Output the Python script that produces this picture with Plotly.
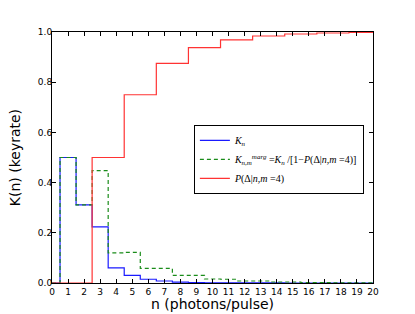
import plotly.graph_objects as go

n_photons = list(range(0, 21))
k_n = [0, 0.5, 0.311, 0.224, 0.060, 0.030, 0.015, 0.008, 0.0035, 0.0018, 0.001,
       0.0005, 0.0003, 0.0002, 0.0001, 0.00005, 0, 0, 0, 0, 0]
k_marg = [0, 0.5, 0.311, 0.448, 0.120, 0.122, 0.058, 0.058, 0.030, 0.030, 0.016,
          0.015, 0.008, 0.008, 0.004, 0.004, 0.002, 0.002, 0.001, 0.001, 0.0005]
p_delta = [0, 0, 0, 0.5, 0.5, 0.75, 0.75, 0.875, 0.875, 0.9375, 0.9375,
           0.969, 0.969, 0.984, 0.984, 0.992, 0.992, 0.996, 0.996, 0.998, 0.998]

x_ticks = list(range(0, 21))
y_ticks = [0.0, 0.2, 0.4, 0.6, 0.8, 1.0]
y_tick_labels = ["0.0", "0.2", "0.4", "0.6", "0.8", "1.0"]

names = [
    "<i>K<sub>n</sub></i>",
    "<i>K<sub>n,m</sub><sup>marg</sup></i> =<i>K<sub>n</sub></i> /[1−<i>P</i>(Δ|<i>n</i>,<i>m</i> =4)]",
    "<i>P</i>(Δ|<i>n</i>,<i>m</i> =4)",
]

fig = go.Figure()
fig.add_trace(go.Scatter(x=n_photons, y=k_n, mode="lines", line_shape="hvh",
                         line=dict(color="#1a1aff", width=1.2), name=names[0]))
fig.add_trace(go.Scatter(x=n_photons, y=k_marg, mode="lines", line_shape="hvh",
                         line=dict(color="#1a8c1a", width=1.2, dash="4px,3px"), name=names[1]))
fig.add_trace(go.Scatter(x=n_photons, y=p_delta, mode="lines", line_shape="hvh",
                         line=dict(color="#ff3333", width=1.2), name=names[2]))

axis_common = dict(showline=True, linecolor="black", linewidth=1, mirror="ticks",
                   ticks="inside", ticklen=4, tickcolor="black", showgrid=False,
                   zeroline=False, automargin=False,
                   tickfont=dict(family="DejaVu Sans", size=9, color="black"))

fig.update_xaxes(range=[0, 20], tickvals=x_ticks, ticktext=[str(t) for t in x_ticks],
                 **axis_common)
fig.update_yaxes(range=[0, 1.0], tickvals=y_ticks, ticktext=y_tick_labels,
                 ticklabelstandoff=-3, **axis_common)

title_font = dict(family="DejaVu Sans", size=14, color="black")
fig.add_annotation(text="n (photons/pulse)", xref="paper", yref="paper",
                   x=0.5, y=-0.045, xanchor="center", yanchor="top",
                   showarrow=False, font=title_font)
fig.add_annotation(text="K(n) (keyrate)", xref="paper", yref="paper",
                   x=-0.085, y=0.5, xanchor="right", yanchor="middle", textangle=-90,
                   showarrow=False, font=title_font)

# page body has an 8px margin, so the figure is sized/offset to compensate
fig.update_layout(
    width=407, height=306,
    margin=dict(l=44, r=42, t=24, b=31),
    paper_bgcolor="white", plot_bgcolor="white",
    showlegend=True,
    legend=dict(x=0.442, y=0.63, xanchor="left", yanchor="top",
                bgcolor="white", bordercolor="black", borderwidth=1,
                font=dict(family="Liberation Serif", size=10, color="black"),
                itemwidth=30, tracegroupgap=0),
)

fig.write_html("out.html")
